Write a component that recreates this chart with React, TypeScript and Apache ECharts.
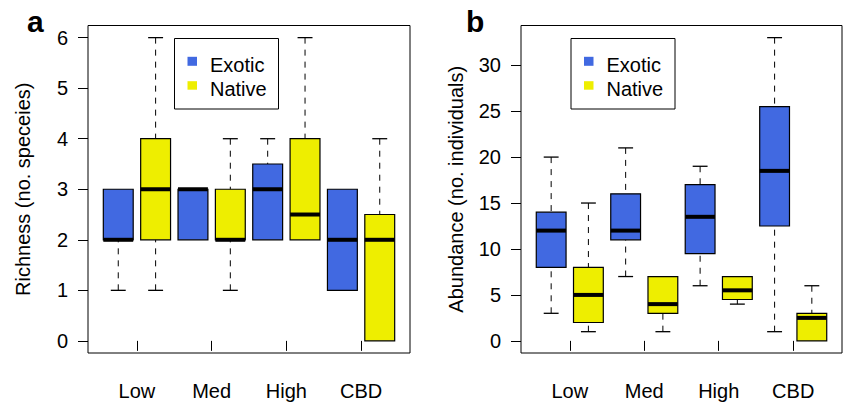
import React, { useEffect, useRef } from "react";
import * as echarts from "echarts";

// ---- data ----
const groups = ["Low", "Med", "High", "CBD"];
const groupTickPositions = [1.5, 3.5, 5.5, 7.5];
// each entry: [lowerWhisker, q1, median, q3, upperWhisker]
const richnessExotic = [
  [1, 2, 2, 3, 3],
  [2, 2, 3, 3, 3],
  [2, 2, 3, 3.5, 4],
  [1, 1, 2, 3, 3],
];
const richnessNative = [
  [1, 2, 3, 4, 6],
  [1, 2, 2, 3, 4],
  [2, 2, 2.5, 4, 6],
  [0, 0, 2, 2.5, 4],
];
const abundanceExotic = [
  [3, 8, 12, 14, 20],
  [7, 11, 12, 16, 21],
  [6, 9.5, 13.5, 17, 19],
  [1, 12.5, 18.5, 25.5, 33],
];
const abundanceNative = [
  [1, 2, 5, 8, 15],
  [1, 3, 4, 7, 7],
  [4, 4.5, 5.5, 7, 7],
  [0, 0, 2.5, 3, 6],
];
const richnessTicks = [0, 1, 2, 3, 4, 5, 6];
const abundanceTicks = [0, 5, 10, 15, 20, 25, 30];

const EXOTIC = "#4169E1";
const NATIVE = "#EEEE00";
const FONT = "'Liberation Sans', Arial, Helvetica, sans-serif";

function toSeriesData(stats: number[][], offset: number) {
  return stats.map((s, i) => [2 * i + offset, ...s]);
}

function renderBox(params: any, api: any) {
  const x = api.value(0);
  const lo = api.value(1);
  const q1 = api.value(2);
  const med = api.value(3);
  const q3 = api.value(4);
  const hi = api.value(5);
  const color = api.visual("color");
  const halfW = 0.4;
  const capW = 0.2;
  const c = (xx: number, yy: number) => api.coord([xx, yy]);
  const children: any[] = [];
  const tl = c(x - halfW, q3);
  const br = c(x + halfW, q1);
  const mid = c(x, 0)[0];
  if (hi > q3) {
    const a = c(x, hi);
    const b = c(x, q3);
    children.push({
      type: "line",
      shape: { x1: mid, y1: a[1], x2: mid, y2: b[1] },
      style: { stroke: "#000", lineWidth: 1, lineDash: [6, 6] },
    });
    const l = c(x - capW, hi);
    const r = c(x + capW, hi);
    children.push({
      type: "line",
      shape: { x1: l[0], y1: l[1], x2: r[0], y2: r[1] },
      style: { stroke: "#000", lineWidth: 1.3 },
    });
  }
  if (lo < q1) {
    const a = c(x, lo);
    const b = c(x, q1);
    children.push({
      type: "line",
      shape: { x1: mid, y1: a[1], x2: mid, y2: b[1] },
      style: { stroke: "#000", lineWidth: 1, lineDash: [6, 6] },
    });
    const l = c(x - capW, lo);
    const r = c(x + capW, lo);
    children.push({
      type: "line",
      shape: { x1: l[0], y1: l[1], x2: r[0], y2: r[1] },
      style: { stroke: "#000", lineWidth: 1.3 },
    });
  }
  children.push({
    type: "rect",
    shape: { x: tl[0], y: tl[1], width: br[0] - tl[0], height: br[1] - tl[1] },
    style: { fill: color, stroke: "#000", lineWidth: 1.2 },
  });
  const ml = c(x - halfW, med);
  const mr = c(x + halfW, med);
  children.push({
    type: "line",
    shape: { x1: ml[0], y1: ml[1], x2: mr[0], y2: mr[1] },
    style: { stroke: "#000", lineWidth: 4 },
  });
  return { type: "group", children };
}

function legendGraphic(left: number) {
  return [
    {
      type: "rect",
      shape: { x: left + 0.5, y: 38.5, width: 104, height: 70.5 },
      style: { fill: "#fff", stroke: "#000", lineWidth: 1 },
      z: 10,
    },
    {
      type: "rect",
      shape: { x: left + 13.5, y: 56.8, width: 9.5, height: 9 },
      style: { fill: EXOTIC },
      z: 11,
    },
    {
      type: "rect",
      shape: { x: left + 13.5, y: 81.2, width: 9.5, height: 8.5 },
      style: { fill: NATIVE },
      z: 11,
    },
    {
      type: "text",
      x: left + 36,
      y: 65,
      style: { text: "Exotic", font: `20px ${FONT}`, fill: "#000", textVerticalAlign: "middle" },
      z: 11,
    },
    {
      type: "text",
      x: left + 36,
      y: 89,
      style: { text: "Native", font: `20px ${FONT}`, fill: "#000", textVerticalAlign: "middle" },
      z: 11,
    },
  ];
}

function xAxisCfg(gridIndex: number) {
  return {
    type: "value",
    gridIndex,
    min: 0.19,
    max: 8.81,
    splitLine: { show: false },
    axisLine: { show: false },
    axisTick: {
      show: true,
      customValues: groupTickPositions,
      length: 10,
      lineStyle: { color: "#000", width: 1 },
    },
    axisLabel: {
      show: true,
      customValues: groupTickPositions,
      formatter: (v: number) => groups[Math.round((v - 1.5) / 2)] ?? "",
      fontSize: 20,
      color: "#000",
      fontFamily: FONT,
      margin: 28,
    },
  };
}

function yAxisCfg(gridIndex: number, min: number, max: number, ticks: number[], name: string) {
  return {
    type: "value",
    gridIndex,
    min,
    max,
    name,
    nameLocation: "middle",
    nameGap: 55,
    nameTextStyle: { fontSize: 20, color: "#000", fontFamily: FONT },
    splitLine: { show: false },
    axisLine: { show: false },
    axisTick: {
      show: true,
      customValues: ticks,
      length: 10,
      lineStyle: { color: "#000", width: 1 },
    },
    axisLabel: {
      show: true,
      customValues: ticks,
      fontSize: 20,
      color: "#000",
      fontFamily: FONT,
      margin: 20,
    },
  };
}

export default function App() {
  const ref = useRef<HTMLDivElement>(null);
  useEffect(() => {
    if (!ref.current) return;
    const chart = echarts.init(ref.current, undefined, { renderer: "svg" });
    const option: any = {
      animation: false,
      backgroundColor: "#fff",
      textStyle: { fontFamily: FONT },
      grid: [
        { left: 88, top: 25.5, width: 322, height: 327.5, show: true, borderColor: "#000", borderWidth: 1, backgroundColor: "transparent" },
        { left: 521, top: 25.5, width: 321, height: 327.5, show: true, borderColor: "#000", borderWidth: 1, backgroundColor: "transparent" },
      ],
      xAxis: [xAxisCfg(0), xAxisCfg(1)],
      yAxis: [
        yAxisCfg(0, -0.24, 6.24, richnessTicks, "Richness (no. speceies)"),
        yAxisCfg(1, -1.32, 34.32, abundanceTicks, "Abundance (no. individuals)"),
      ],
      series: [
        {
          name: "Exotic",
          type: "custom",
          xAxisIndex: 0,
          yAxisIndex: 0,
          itemStyle: { color: EXOTIC },
          renderItem: renderBox,
          encode: { x: 0, y: [1, 2, 3, 4, 5] },
          data: toSeriesData(richnessExotic, 1),
        },
        {
          name: "Native",
          type: "custom",
          xAxisIndex: 0,
          yAxisIndex: 0,
          itemStyle: { color: NATIVE },
          renderItem: renderBox,
          encode: { x: 0, y: [1, 2, 3, 4, 5] },
          data: toSeriesData(richnessNative, 2),
        },
        {
          name: "Exotic",
          type: "custom",
          xAxisIndex: 1,
          yAxisIndex: 1,
          itemStyle: { color: EXOTIC },
          renderItem: renderBox,
          encode: { x: 0, y: [1, 2, 3, 4, 5] },
          data: toSeriesData(abundanceExotic, 1),
        },
        {
          name: "Native",
          type: "custom",
          xAxisIndex: 1,
          yAxisIndex: 1,
          itemStyle: { color: NATIVE },
          renderItem: renderBox,
          encode: { x: 0, y: [1, 2, 3, 4, 5] },
          data: toSeriesData(abundanceNative, 2),
        },
      ],
      graphic: [
        {
          type: "text",
          x: 27,
          y: 21.5,
          style: { text: "a", font: `bold 30px ${FONT}`, fill: "#000", textVerticalAlign: "middle" },
        },
        {
          type: "text",
          x: 466,
          y: 21.5,
          style: { text: "b", font: `bold 30px ${FONT}`, fill: "#000", textVerticalAlign: "middle" },
        },
        ...legendGraphic(174),
        ...legendGraphic(570.5),
      ],
    };
    chart.setOption(option);
    return () => chart.dispose();
  }, []);
  return (
    <div
      ref={ref}
      style={{ position: "absolute", left: 0, top: 0, width: 845, height: 404, background: "#fff" }}
    />
  );
}
